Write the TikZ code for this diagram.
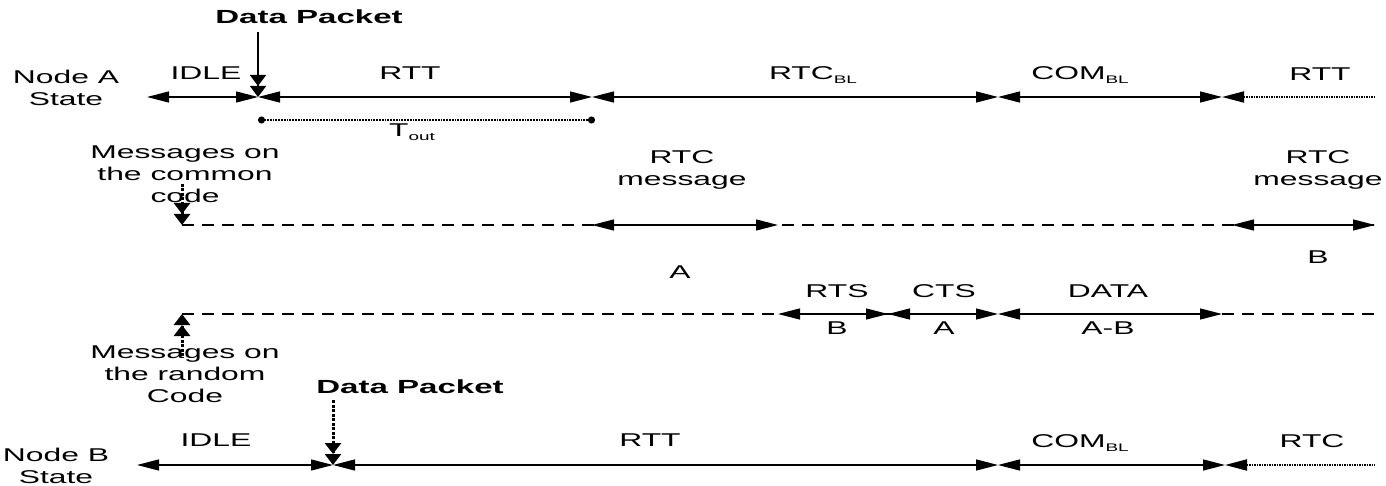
\documentclass[tikz,border=0pt]{standalone}
\usepackage{fontspec}
\setmainfont{Liberation Sans}
\newfontfamily\wf[FakeStretch=1.72]{Liberation Sans}
\newfontfamily\wfb[FakeStretch=1.74]{Liberation Sans Bold}
\usetikzlibrary{arrows.meta}
\newcommand{\sbl}[1]{\raisebox{-0.45ex}{\fontsize{11}{11}\selectfont #1}}
\tikzset{
  tri/.tip={Triangle[length=22pt,width=11pt]},
  vtri/.tip={Triangle[length=11pt,width=16pt]},
  seg/.style={line width=1.3pt, tri-tri},
  lbl/.style={font=\wf\fontsize{18.5}{22}\selectfont, inner sep=0pt, align=center},
  blbl/.style={font=\wfb\fontsize{19}{21}\selectfont, inner sep=0pt},
  codeline/.style={line width=1.2pt, dash pattern=on 12pt off 8pt},
  tail/.style={line width=1.8pt, dash pattern=on 1.5pt off 1pt, tri-},
  dbl/.style={line width=3pt, dash pattern=on 3pt off 1.5pt, -{vtri[]vtri[]}},
}
\begin{document}
\begin{tikzpicture}[x=1pt,y=-1pt]
\useasboundingbox (0,0) rectangle (1386,486);
% ---------- Node A ----------
\coordinate (a0) at (147,97);
\coordinate (a1) at (258,97);
\coordinate (a2) at (592,97);
\coordinate (a3) at (998,97);
\coordinate (a4) at (1222,97);
\coordinate (a5) at (1375,97);
\node[lbl] (nA) at (66,88) {Node A\\State};
\node[lbl] (idleA) at (206,73) {IDLE};
\node[lbl] (rttA) at (410,73) {RTT};
\node[lbl] (rtcA) at (813,75) {RTC\sbl{BL}};
\node[lbl] (comA) at (1080,75) {COM\sbl{BL}};
\node[lbl] (rtt2A) at (1320,74) {RTT};
\draw[seg] (a0) -- (a1);
\draw[seg] (a1) -- (a2);
\draw[seg] (a2) -- (a3);
\draw[seg] (a3) -- (a4);
\draw[tail] (a4) -- (a5);
\node[blbl] (dpA) at (309,17) {Data Packet};
\coordinate (dpAs) at (258,32);
\draw[line width=1.5pt,-{vtri[]vtri[]}] (dpAs) -- (a1);
% T_out
\coordinate (t0) at (258,120);
\coordinate (t1) at (595,120);
\draw[line width=1.8pt, densely dotted, {Circle[length=7pt]}-{Circle[length=7pt]}] (t0) -- (t1);
\node[lbl] (tout) at (412,132) {T\sbl{out}};
% ---------- Common code ----------
\node[lbl] (mc) at (185,174) {Messages on\\the common\\code};
\coordinate (c0) at (182,225);
\coordinate (c1) at (592,225);
\coordinate (c2) at (778,225);
\coordinate (c3) at (1232,225);
\coordinate (c4) at (1375,225);
\coordinate (mcs) at (182,184);
\draw[codeline] (c0) -- (c4);
\draw[dbl] (mcs) -- (c0);
\draw[seg] (c1) -- (c2);
\draw[seg] (c3) -- (c4);
\node[lbl] (rtcmA) at (682,170) {RTC\\message};
\node[lbl] (mA) at (680,272) {A};
\node[lbl] (rtcmB) at (1318,170) {RTC\\message};
\node[lbl] (mB) at (1318,257) {B};
% ---------- Random code ----------
\coordinate (r0) at (182,314);
\coordinate (r1) at (778,314);
\coordinate (r2) at (888,314);
\coordinate (r3) at (998,314);
\coordinate (r4) at (1222,314);
\coordinate (r5) at (1375,314);
\coordinate (mrs) at (182,356);
\draw[codeline] (r0) -- (r5);
\draw[dbl] (mrs) -- (r0);
\draw[seg] (r1) -- (r2);
\draw[seg] (r2) -- (r3);
\draw[seg] (r3) -- (r4);
\node[lbl] (rts) at (837,291) {RTS};
\node[lbl] (cts) at (944,291) {CTS};
\node[lbl] (data) at (1108,291) {DATA};
\node[lbl] (rB) at (837,328) {B};
\node[lbl] (cA) at (944,328) {A};
\node[lbl] (dAB) at (1108,328) {A-B};
\node[lbl] (mr) at (185,374) {Messages on\\the random\\Code};
% ---------- Node B ----------
\coordinate (b0) at (137,465);
\coordinate (b1) at (333,465);
\coordinate (b2) at (998,465);
\coordinate (b3) at (1225,465);
\coordinate (b4) at (1375,465);
\node[lbl] (nB) at (56,466) {Node B\\State};
\node[lbl] (idleB) at (216,440) {IDLE};
\node[lbl] (rttB) at (650,440) {RTT};
\node[lbl] (comB) at (1080,443) {COM\sbl{BL}};
\node[lbl] (rtcB) at (1312,441) {RTC};
\draw[seg] (b0) -- (b1);
\draw[seg] (b1) -- (b2);
\draw[seg] (b2) -- (b3);
\draw[tail] (b3) -- (b4);
\node[blbl] (dpB) at (410,387) {Data Packet};
\coordinate (dpBs) at (333,400);
\draw[dbl] (dpBs) -- (b1);
\end{tikzpicture}
\end{document}
